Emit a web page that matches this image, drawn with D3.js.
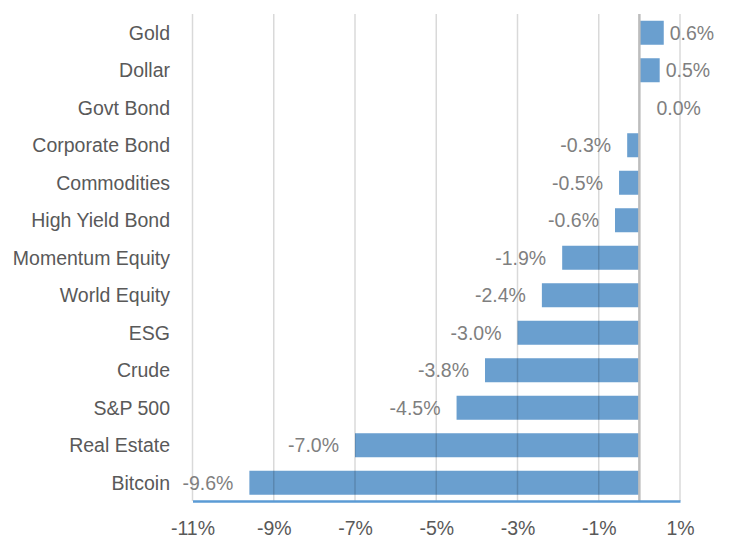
<!DOCTYPE html>
<html><head><meta charset="utf-8">
<script src="https://cdn.jsdelivr.net/npm/d3@7"></script>
<style>body{margin:0;background:#fff;}svg{display:block;font-family:"Liberation Sans",Arial,sans-serif;}</style>
</head><body>
<svg id="c" width="730" height="538"></svg>
<script>
const categories = ["Gold","Dollar","Govt Bond","Corporate Bond","Commodities","High Yield Bond","Momentum Equity","World Equity","ESG","Crude","S&P 500","Real Estate","Bitcoin"];
const values = [0.6,0.5,0.0,-0.3,-0.5,-0.6,-1.9,-2.4,-3.0,-3.8,-4.5,-7.0,-9.6];
const tickValues = [-11,-9,-7,-5,-3,-1,1];

const svg = d3.select("#c");
const x = d3.scaleLinear().domain([-11,1]).range([192.5,680]);
const y = d3.scaleBand().domain(categories).range([14,501.5]).paddingInner(0.36).paddingOuter(0.18);
const fs = 19.5;

// bars
svg.append("g").selectAll("rect").data(values).join("rect")
  .attr("x",(d)=>x(Math.min(0,d)))
  .attr("y",(d,i)=>y(categories[i]))
  .attr("width",d=>Math.abs(x(d)-x(0)))
  .attr("height",y.bandwidth())
  .attr("fill","#6a9fcf");

// gridlines (on top, translucent)
svg.append("g").selectAll("line").data(tickValues).join("line")
  .attr("x1",d=>x(d)).attr("x2",d=>x(d))
  .attr("y1",14).attr("y2",501)
  .attr("stroke","rgba(0,0,0,0.15)").attr("stroke-width",1.5);

// zero line
svg.append("line").attr("x1",x(0)).attr("x2",x(0)).attr("y1",14).attr("y2",502)
  .attr("stroke","#bdbdbd").attr("stroke-width",2.5);

// bottom axis
const ax = svg.append("g").attr("transform","translate(0,501)")
  .call(d3.axisBottom(x).tickValues(tickValues).tickSize(0).tickPadding(20).tickFormat(d=>d+"%"));
ax.select(".domain").attr("stroke","#5b9bd5").attr("stroke-width",2.5);
ax.selectAll("text").attr("font-size",fs).attr("fill","#595959").attr("font-family","Liberation Sans, Arial, sans-serif");

// category labels
svg.append("g").selectAll("text").data(categories).join("text")
  .attr("x",170).attr("y",d=>y(d)+y.bandwidth()/2).attr("dy","0.36em")
  .attr("text-anchor","end").attr("font-size",fs).attr("fill","#595959").text(d=>d);

// value labels
svg.append("g").selectAll("text").data(values).join("text")
  .attr("x",d=> d>0 ? x(d)+6 : (d===0 ? x(0)+17 : x(d)-16))
  .attr("y",(d,i)=>y(categories[i])+y.bandwidth()/2).attr("dy","0.36em")
  .attr("text-anchor",d=> d>=0 ? "start" : "end")
  .attr("font-size",fs).attr("fill","#7f7f7f").text(d=>d.toFixed(1)+"%");
</script>
</body></html>
